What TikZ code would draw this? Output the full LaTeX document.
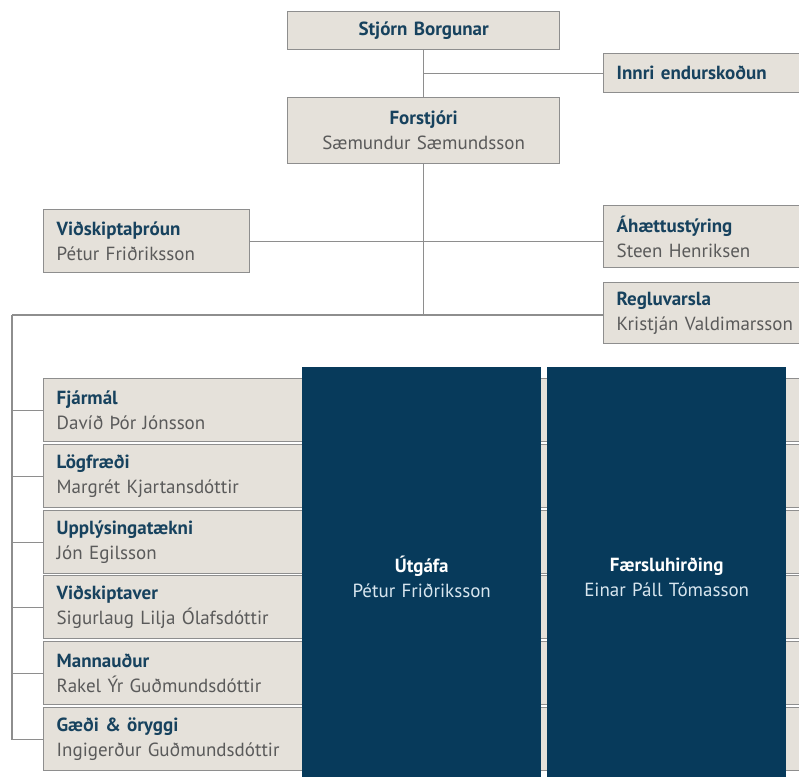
\documentclass[tikz,border=0pt]{standalone}
\usepackage{fontspec}
\setmainfont{PT Sans}
\usetikzlibrary{positioning,calc}
\definecolor{boxgrey}{HTML}{E5E1DA}
\definecolor{edgegrey}{HTML}{8E8E8E}
\definecolor{titleblue}{HTML}{17425E}
\definecolor{namegrey}{HTML}{5A5A5A}
\definecolor{navy}{HTML}{073A5B}
\definecolor{palename}{HTML}{D8E6EF}
\tikzset{
  unit/.style={draw=edgegrey, fill=boxgrey, line width=1.3pt, anchor=north west,
    inner ysep=0pt, font=\fontsize{19}{25}\selectfont},
  leftunit/.style={unit, inner xsep=13pt, align=left, text width=#1},
  midunit/.style={unit, inner xsep=0pt, align=center, text width=#1},
  division/.style={fill=navy, anchor=north west, inner sep=0pt, align=center,
    text width=239pt, minimum height=420pt, font=\fontsize{19}{25}\selectfont},
  link/.style={draw=edgegrey, line width=1.3pt},
}
\newcommand{\unittitle}[1]{{\bfseries\color{titleblue}#1}}
\newcommand{\unitperson}[1]{{\color{namegrey}#1}}

\begin{document}
\begin{tikzpicture}[x=1pt, y=-1pt]
\useasboundingbox (0,0) rectangle (799,776);

% top of the tree
\node[midunit=272pt, minimum height=38pt] (board) at (287,11) {\unittitle{Stjórn Borgunar}};
\node[midunit=272pt, minimum height=66pt] (ceo) at (287,97)
  {\unittitle{Forstjóri}\\\unitperson{Sæmundur Sæmundsson}};
\node[leftunit=200pt, minimum height=39pt] (audit) at (603,53) {\unittitle{Innri endurskoðun}};

% staff units
\node[leftunit=180pt, minimum height=63pt] (dev) at (43,209)
  {\unittitle{Viðskiptaþróun}\\\unitperson{Pétur Friðriksson}};
\node[leftunit=200pt, minimum height=62pt] (risk) at (603,205)
  {\unittitle{Áhættustýring}\\\unitperson{Steen Henriksen}};
\node[leftunit=200pt, minimum height=61pt] (comp) at (603,282)
  {\unittitle{Regluvarsla}\\\unitperson{Kristján Valdimarsson}};

% support bars
\node[leftunit=733pt, minimum height=63pt] (fin) at (43,378)
  {\unittitle{Fjármál}\\\unitperson{Davíð Þór Jónsson}};
\node[leftunit=733pt, minimum height=63pt] (legal) at (43,444)
  {\unittitle{Lögfræði}\\\unitperson{Margrét Kjartansdóttir}};
\node[leftunit=733pt, minimum height=63pt] (it) at (43,510)
  {\unittitle{Upplýsingatækni}\\\unitperson{Jón Egilsson}};
\node[leftunit=733pt, minimum height=63pt] (service) at (43,575)
  {\unittitle{Viðskiptaver}\\\unitperson{Sigurlaug Lilja Ólafsdóttir}};
\node[leftunit=733pt, minimum height=63pt] (hr) at (43,641)
  {\unittitle{Mannauður}\\\unitperson{Rakel Ýr Guðmundsdóttir}};
\node[leftunit=733pt, minimum height=63pt] (quality) at (43,707)
  {\unittitle{Gæði \& öryggi}\\\unitperson{Ingigerður Guðmundsdóttir}};

% divisions
\node[division] (issuing) at (302,367)
  {{\bfseries\color{white}Útgáfa}\\{\color{palename}Pétur Friðriksson}};
\node[division] (acquiring) at (547,367)
  {{\bfseries\color{white}Færsluhirðing}\\{\color{palename}Einar Páll Tómasson}};

% connectors
\coordinate (spine) at (ceo.south |- 0,315);
\coordinate (corner) at (12,315);
\draw[link] (board) -- (ceo);
\draw[link] (board.south |- audit.west) -- (audit.west);
\draw[link] (ceo.south) -- (spine);
\draw[link] (dev.east) -- (dev.east -| risk.west);
\draw[link] (corner) -- (corner -| comp.west);
\draw[link] (corner) |- (quality.west);
\foreach \u in {fin,legal,it,service,hr}
  \draw[link] (corner |- \u.west) -- (\u.west);
\end{tikzpicture}
\end{document}
